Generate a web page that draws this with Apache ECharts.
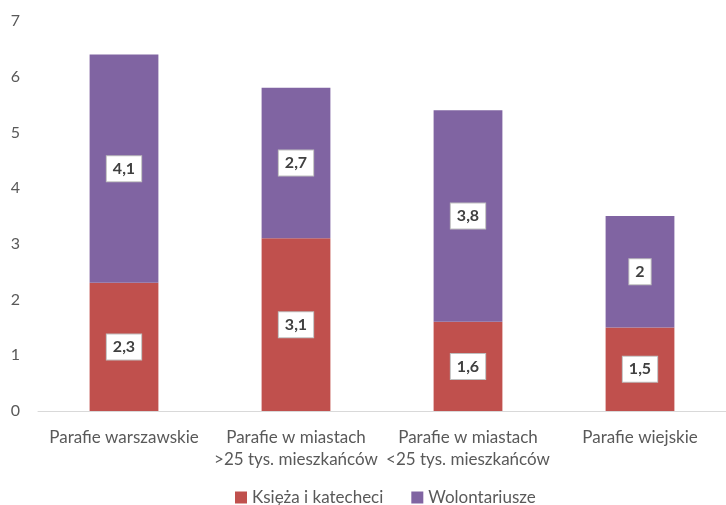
<!DOCTYPE html>
<html lang="pl">
<head>
  <meta charset="UTF-8">
  <title>Parafie</title>
  <style>
    html, body { margin: 0; padding: 0; background: #fff; }
    #chart { width: 726px; height: 505px; }
  </style>
</head>
<body>
  <div id="chart"></div>
  <script src="https://cdn.jsdelivr.net/npm/echarts@6/dist/echarts.min.js"></script>
  <script>
    // dane
    const categories = [
      'Parafie warszawskie',
      'Parafie w miastach\n>25 tys. mieszkańców',
      'Parafie w miastach\n<25 tys. mieszkańców',
      'Parafie wiejskie'
    ]
    const ksieza = [2.3, 3.1, 1.6, 1.5]
    const wolontariusze = [4.1, 2.7, 3.8, 2]
    const seriesNames = ['Księża i katecheci', 'Wolontariusze']

    const font = 'Lato, "Open Sans", sans-serif'
    const textColor = '#595959'

    const label = {
      show: true,
      position: 'inside',
      backgroundColor: '#fff',
      borderColor: '#bfbfbf',
      borderWidth: 1,
      padding: [5, 6, 4, 6],
      color: '#404040',
      fontWeight: 'bold',
      fontSize: 16,
      fontFamily: font,
      formatter: p => String(p.value).replace('.', ',')
    }

    const chart = echarts.init(document.getElementById('chart'))
    chart.setOption({
      animation: false,
      textStyle: { fontFamily: font },
      grid: { left: 38, top: 21, width: 694, height: 390 },
      legend: {
        bottom: -6,
        left: 230,
        itemWidth: 12,
        itemHeight: 12,
        itemGap: 28,
        icon: 'rect',
        textStyle: { color: textColor, fontSize: 17, fontFamily: font },
        data: seriesNames
      },
      xAxis: {
        type: 'category',
        data: categories,
        axisLine: { lineStyle: { color: '#d9d9d9', width: 1 } },
        axisTick: { show: false },
        axisLabel: {
          color: textColor,
          fontSize: 17,
          lineHeight: 22,
          margin: 16,
          interval: 0
        }
      },
      yAxis: {
        type: 'value',
        min: 0,
        max: 7,
        interval: 1,
        splitLine: { show: false },
        axisLine: { show: false },
        axisTick: { show: false },
        axisLabel: { color: textColor, fontSize: 16, margin: 18 }
      },
      series: [
        {
          name: seriesNames[0],
          type: 'bar',
          stack: 'a',
          barWidth: '40%',
          data: ksieza,
          itemStyle: { color: '#C0504D' },
          label: label
        },
        {
          name: seriesNames[1],
          type: 'bar',
          stack: 'a',
          data: wolontariusze,
          itemStyle: { color: '#8064A2' },
          label: label
        }
      ]
    })
  </script>
</body>
</html>
